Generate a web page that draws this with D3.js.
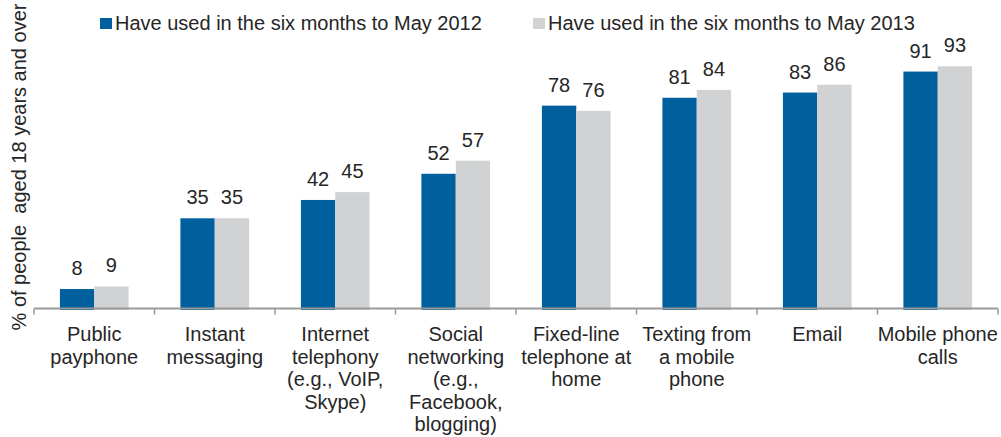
<!DOCTYPE html>
<html>
<head>
<meta charset="utf-8">
<script src="https://cdn.jsdelivr.net/npm/d3@7"></script>
<style>
  html, body { margin: 0; padding: 0; background: #fff; }
  svg { display: block; font-family: "Liberation Sans", Arial, Helvetica, sans-serif; }
</style>
</head>
<body>
<svg id="chart" width="1001" height="437"></svg>
<script>
// Communication methods used, share of adults (%)
const categories = [
  ["Public", "payphone"],
  ["Instant", "messaging"],
  ["Internet", "telephony", "(e.g., VoIP,", "Skype)"],
  ["Social", "networking", "(e.g.,", "Facebook,", "blogging)"],
  ["Fixed-line", "telephone at", "home"],
  ["Texting from", "a mobile", "phone"],
  ["Email"],
  ["Mobile phone", "calls"]
];
const seriesNames = [
  "Have used in the six months to May 2012",
  "Have used in the six months to May 2013"
];
const values2012 = [8, 35, 42, 52, 78, 81, 83, 91];
const values2013 = [9, 35, 45, 57, 76, 84, 86, 93];
const seriesColors = ["#00609d", "#d1d2d4"];
const yTitle = "% of people  aged 18 years and over";

const svg = d3.select("#chart");
const textColor = "#262626";
const fontSize = 20;

const left = 34, right = 998, baseY = 310, topY = 48;
const catKeys = categories.map((c, i) => i);

const x0 = d3.scaleBand()
  .domain(catKeys)
  .range([left, right])
  .paddingInner(0.43)
  .paddingOuter(0.215);

const x1 = d3.scaleBand()
  .domain([0, 1])
  .range([0, x0.bandwidth()]);

const y = d3.scaleLinear().domain([0, 100]).range([baseY, topY]);

const rows = catKeys.map(i => [values2012[i], values2013[i]]);

// bars
const groups = svg.append("g").selectAll("g")
  .data(rows)
  .join("g")
  .attr("transform", (d, i) => `translate(${x0(i)},0)`);

groups.selectAll("rect")
  .data(d => d.map((v, s) => ({ v, s })))
  .join("rect")
  .attr("x", d => x1(d.s))
  .attr("width", x1.bandwidth())
  .attr("y", d => y(d.v))
  .attr("height", d => y(0) - y(d.v))
  .attr("fill", d => seriesColors[d.s]);

// value labels
groups.selectAll("text")
  .data(d => d.map((v, s) => ({ v, s })))
  .join("text")
  .attr("x", d => x1(d.s) + x1.bandwidth() / 2)
  .attr("y", d => y(d.v) - 14)
  .attr("text-anchor", "middle")
  .attr("font-size", fontSize)
  .attr("fill", textColor)
  .text(d => d.v);

// category axis with ticks at the category boundaries
const axisY = 308.5;
const axisG = svg.append("g");
axisG.append("line")
  .attr("x1", left).attr("x2", right)
  .attr("y1", axisY).attr("y2", axisY)
  .attr("stroke", "#999").attr("stroke-width", 2);
const bounds = d3.range(categories.length + 1).map(i => left + i * x0.step());
axisG.selectAll("line.tick")
  .data(bounds)
  .join("line")
  .attr("class", "tick")
  .attr("x1", d => d).attr("x2", d => d)
  .attr("y1", axisY).attr("y2", axisY + 6)
  .attr("stroke", "#999").attr("stroke-width", 1.5);

// category labels
const labels = svg.append("g").selectAll("text")
  .data(categories)
  .join("text")
  .attr("x", (d, i) => x0(i) + x0.bandwidth() / 2)
  .attr("y", 341)
  .attr("text-anchor", "middle")
  .attr("font-size", fontSize)
  .attr("fill", textColor);
labels.selectAll("tspan")
  .data(d => d)
  .join("tspan")
  .attr("x", function() { return this.parentNode.getAttribute("x"); })
  .attr("dy", (d, j) => j === 0 ? 0 : 22.5)
  .text(d => d);

// y-axis title
svg.append("text")
  .attr("transform", "translate(26,167) rotate(-90)")
  .attr("text-anchor", "middle")
  .attr("font-size", fontSize)
  .attr("fill", textColor)
  .attr("xml:space", "preserve")
  .style("white-space", "pre")
  .text(yTitle);

// legend
const legendX = [100, 533];
const legend = svg.append("g").selectAll("g")
  .data(seriesNames)
  .join("g")
  .attr("transform", (d, i) => `translate(${legendX[i]},18)`);
legend.append("rect")
  .attr("width", 12).attr("height", 11)
  .attr("fill", (d, i) => seriesColors[i]);
legend.append("text")
  .attr("x", 15).attr("y", 11.5)
  .attr("font-size", fontSize)
  .attr("fill", textColor)
  .text(d => d);
</script>
</body>
</html>
